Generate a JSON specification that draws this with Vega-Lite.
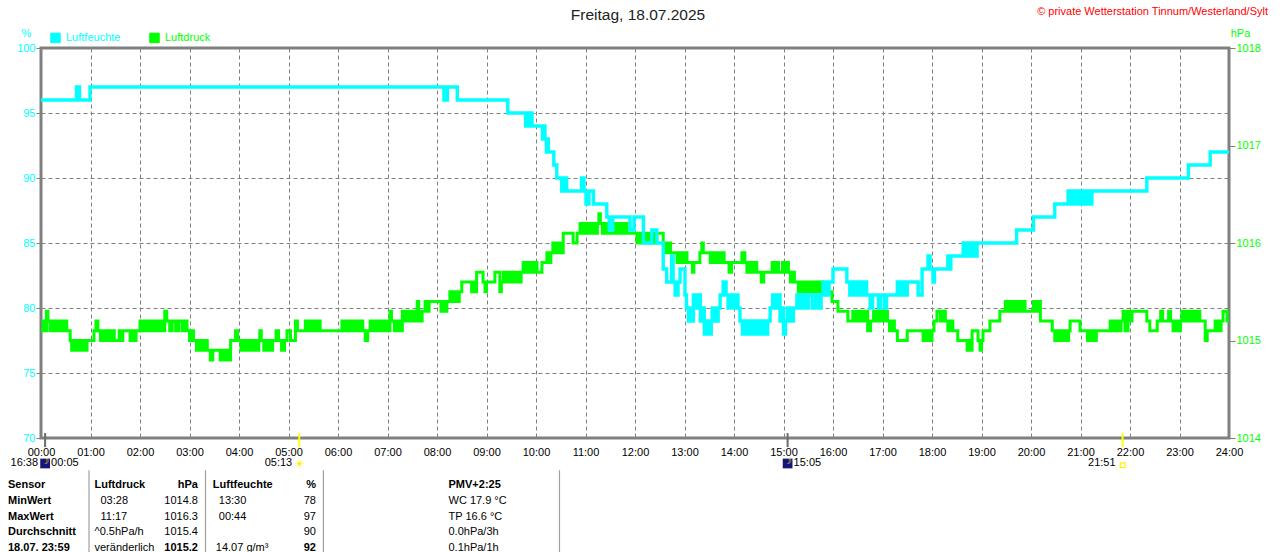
{
  "$schema": "https://vega.github.io/schema/vega-lite/v6.json",
  "width": 1188,
  "height": 390,
  "autosize": {"type": "none"},
  "padding": {"left": 41, "top": 48, "right": 51, "bottom": 114},
  "background": "white",
  "datasets": {
    "feuchte": [
      {"t":0,"v":96},{"t":0.717,"v":97},{"t":0.778,"v":96},{"t":0.99,"v":97},{"t":8.14,"v":96},{"t":8.21,"v":97},{"t":8.41,"v":96},
      {"t":9.43,"v":95},{"t":9.79,"v":94},{"t":9.83,"v":95},{"t":9.86,"v":94},{"t":9.9,"v":95},{"t":9.92,"v":94},
      {"t":10.13,"v":93},{"t":10.16,"v":94},{"t":10.18,"v":93},{"t":10.21,"v":92},{"t":10.23,"v":93},{"t":10.25,"v":92},
      {"t":10.36,"v":91},{"t":10.42,"v":90},{"t":10.52,"v":89},{"t":10.55,"v":90},{"t":10.58,"v":89},{"t":10.6,"v":90},{"t":10.62,"v":89},
      {"t":10.92,"v":90},{"t":10.97,"v":89},{"t":11.01,"v":88},{"t":11.07,"v":89},{"t":11.16,"v":88},{"t":11.43,"v":87},{"t":11.48,"v":86},
      {"t":11.55,"v":87},{"t":11.9,"v":86},{"t":11.98,"v":87},{"t":12.17,"v":85},{"t":12.34,"v":86},{"t":12.44,"v":85},{"t":12.57,"v":83},
      {"t":12.64,"v":82},{"t":12.74,"v":84},{"t":12.77,"v":82},{"t":12.81,"v":81},{"t":12.87,"v":82},{"t":12.91,"v":83},{"t":13.01,"v":81},
      {"t":13.04,"v":80},{"t":13.08,"v":79},{"t":13.12,"v":80},{"t":13.15,"v":79},{"t":13.18,"v":81},{"t":13.24,"v":80},{"t":13.28,"v":81},
      {"t":13.32,"v":79},{"t":13.36,"v":80},{"t":13.4,"v":78},{"t":13.44,"v":79},{"t":13.5,"v":78},{"t":13.54,"v":79},{"t":13.56,"v":80},
      {"t":13.62,"v":79},{"t":13.68,"v":80},{"t":13.72,"v":81},{"t":13.78,"v":82},{"t":13.84,"v":81},{"t":13.88,"v":80},{"t":13.93,"v":81},
      {"t":13.98,"v":80},{"t":14.03,"v":81},{"t":14.08,"v":80},{"t":14.12,"v":79},{"t":14.17,"v":78},{"t":14.22,"v":79},{"t":14.28,"v":78},
      {"t":14.34,"v":79},{"t":14.4,"v":78},{"t":14.46,"v":79},{"t":14.52,"v":78},{"t":14.58,"v":79},{"t":14.64,"v":78},{"t":14.68,"v":79},
      {"t":14.73,"v":80},{"t":14.78,"v":81},{"t":14.84,"v":80},{"t":14.88,"v":81},{"t":14.93,"v":79},{"t":14.96,"v":80},{"t":15.0,"v":78},
      {"t":15.04,"v":79},{"t":15.08,"v":80},{"t":15.14,"v":79},{"t":15.2,"v":80},{"t":15.27,"v":81},{"t":15.32,"v":80},{"t":15.38,"v":81},
      {"t":15.45,"v":80},{"t":15.5,"v":81},{"t":15.58,"v":80},{"t":15.65,"v":81},{"t":15.72,"v":80},{"t":15.76,"v":81},{"t":15.8,"v":82},
      {"t":15.86,"v":81},{"t":15.92,"v":82},{"t":16.0,"v":83},{"t":16.28,"v":82},{"t":16.34,"v":81},{"t":16.4,"v":82},{"t":16.46,"v":81},
      {"t":16.52,"v":82},{"t":16.58,"v":81},{"t":16.64,"v":82},{"t":16.68,"v":81},{"t":16.75,"v":80},{"t":16.8,"v":81},{"t":16.92,"v":80},
      {"t":16.96,"v":81},{"t":17.04,"v":80},{"t":17.08,"v":81},{"t":17.3,"v":82},{"t":17.35,"v":81},{"t":17.4,"v":82},{"t":17.45,"v":81},
      {"t":17.5,"v":82},{"t":17.72,"v":81},{"t":17.8,"v":83},{"t":17.92,"v":84},{"t":17.96,"v":83},{"t":18.02,"v":82},{"t":18.05,"v":83},
      {"t":18.32,"v":84},{"t":18.36,"v":83},{"t":18.38,"v":84},{"t":18.63,"v":85},{"t":18.68,"v":84},{"t":18.74,"v":85},{"t":18.8,"v":84},
      {"t":18.86,"v":85},{"t":18.9,"v":84},{"t":18.91,"v":85},{"t":19.71,"v":86},{"t":20.05,"v":87},{"t":20.48,"v":88},{"t":20.75,"v":89},
      {"t":20.82,"v":88},{"t":20.88,"v":89},{"t":20.95,"v":88},{"t":21.0,"v":89},{"t":21.06,"v":88},{"t":21.12,"v":89},{"t":21.18,"v":88},
      {"t":21.23,"v":89},{"t":22.34,"v":90},{"t":23.18,"v":91},{"t":23.62,"v":92},{"t":24,"v":92}
    ],
    "druck": [
      {"t":0,"v":1015.1},{"t":0.04,"v":1015.2},{"t":0.08,"v":1015.1},{"t":0.11,"v":1015.3},{"t":0.14,"v":1015.2},{"t":0.18,"v":1015.1},
      {"t":0.22,"v":1015.2},{"t":0.28,"v":1015.1},{"t":0.32,"v":1015.2},{"t":0.38,"v":1015.1},{"t":0.42,"v":1015.2},{"t":0.46,"v":1015.1},
      {"t":0.5,"v":1015.2},{"t":0.52,"v":1015.1},{"t":0.59,"v":1015.0},{"t":0.62,"v":1014.9},{"t":0.66,"v":1015.0},{"t":0.72,"v":1014.9},
      {"t":0.76,"v":1015.0},{"t":0.82,"v":1014.9},{"t":0.86,"v":1015.0},{"t":0.9,"v":1014.9},{"t":0.93,"v":1015.0},{"t":1.07,"v":1015.1},
      {"t":1.11,"v":1015.2},{"t":1.15,"v":1015.1},{"t":1.2,"v":1015.0},{"t":1.25,"v":1015.1},{"t":1.3,"v":1015.0},{"t":1.36,"v":1015.1},
      {"t":1.4,"v":1015.0},{"t":1.45,"v":1015.1},{"t":1.48,"v":1015.0},{"t":1.58,"v":1015.1},{"t":1.62,"v":1015.0},{"t":1.65,"v":1015.1},
      {"t":1.8,"v":1015.0},{"t":1.84,"v":1015.1},{"t":1.88,"v":1015.0},{"t":1.92,"v":1015.1},{"t":2.0,"v":1015.2},{"t":2.05,"v":1015.1},
      {"t":2.1,"v":1015.2},{"t":2.15,"v":1015.1},{"t":2.2,"v":1015.2},{"t":2.25,"v":1015.1},{"t":2.3,"v":1015.2},{"t":2.35,"v":1015.1},
      {"t":2.4,"v":1015.2},{"t":2.45,"v":1015.1},{"t":2.5,"v":1015.3},{"t":2.54,"v":1015.2},{"t":2.6,"v":1015.1},{"t":2.65,"v":1015.2},
      {"t":2.72,"v":1015.1},{"t":2.78,"v":1015.2},{"t":2.85,"v":1015.1},{"t":2.9,"v":1015.2},{"t":2.95,"v":1015.1},{"t":3.0,"v":1015.0},
      {"t":3.03,"v":1015.1},{"t":3.08,"v":1015.0},{"t":3.14,"v":1014.9},{"t":3.18,"v":1015.0},{"t":3.24,"v":1014.9},{"t":3.3,"v":1015.0},
      {"t":3.36,"v":1014.9},{"t":3.42,"v":1014.8},{"t":3.47,"v":1014.9},{"t":3.62,"v":1014.8},{"t":3.68,"v":1014.9},{"t":3.72,"v":1014.8},
      {"t":3.78,"v":1014.9},{"t":3.8,"v":1014.8},{"t":3.83,"v":1015.0},{"t":3.93,"v":1015.1},{"t":3.97,"v":1015.0},{"t":4.04,"v":1014.9},
      {"t":4.1,"v":1015.0},{"t":4.15,"v":1014.9},{"t":4.2,"v":1015.0},{"t":4.25,"v":1014.9},{"t":4.3,"v":1015.0},{"t":4.36,"v":1014.9},
      {"t":4.4,"v":1015.0},{"t":4.42,"v":1015.1},{"t":4.45,"v":1015.0},{"t":4.5,"v":1014.9},{"t":4.56,"v":1015.0},{"t":4.62,"v":1014.9},
      {"t":4.68,"v":1015.0},{"t":4.75,"v":1015.1},{"t":4.8,"v":1015.0},{"t":4.86,"v":1014.9},{"t":4.92,"v":1015.0},{"t":4.97,"v":1015.1},
      {"t":5.04,"v":1015.0},{"t":5.14,"v":1015.2},{"t":5.18,"v":1015.1},{"t":5.34,"v":1015.2},{"t":5.4,"v":1015.1},{"t":5.46,"v":1015.2},
      {"t":5.52,"v":1015.1},{"t":5.58,"v":1015.2},{"t":5.64,"v":1015.1},{"t":6.08,"v":1015.2},{"t":6.14,"v":1015.1},{"t":6.2,"v":1015.2},
      {"t":6.26,"v":1015.1},{"t":6.32,"v":1015.2},{"t":6.38,"v":1015.1},{"t":6.44,"v":1015.2},{"t":6.5,"v":1015.1},{"t":6.55,"v":1015.0},
      {"t":6.6,"v":1015.1},{"t":6.65,"v":1015.2},{"t":6.7,"v":1015.1},{"t":6.76,"v":1015.2},{"t":6.82,"v":1015.1},{"t":6.88,"v":1015.2},
      {"t":6.94,"v":1015.1},{"t":7.0,"v":1015.2},{"t":7.04,"v":1015.1},{"t":7.05,"v":1015.3},{"t":7.08,"v":1015.2},{"t":7.14,"v":1015.1},
      {"t":7.2,"v":1015.2},{"t":7.26,"v":1015.1},{"t":7.3,"v":1015.3},{"t":7.36,"v":1015.2},{"t":7.42,"v":1015.3},{"t":7.48,"v":1015.2},
      {"t":7.54,"v":1015.3},{"t":7.58,"v":1015.2},{"t":7.6,"v":1015.4},{"t":7.63,"v":1015.3},{"t":7.66,"v":1015.2},{"t":7.7,"v":1015.3},
      {"t":7.76,"v":1015.4},{"t":7.8,"v":1015.3},{"t":7.84,"v":1015.4},{"t":8.08,"v":1015.3},{"t":8.12,"v":1015.4},{"t":8.16,"v":1015.3},
      {"t":8.2,"v":1015.4},{"t":8.26,"v":1015.5},{"t":8.3,"v":1015.4},{"t":8.35,"v":1015.5},{"t":8.4,"v":1015.4},{"t":8.45,"v":1015.5},
      {"t":8.5,"v":1015.6},{"t":8.7,"v":1015.5},{"t":8.74,"v":1015.6},{"t":8.77,"v":1015.5},{"t":8.8,"v":1015.7},{"t":8.93,"v":1015.6},
      {"t":8.97,"v":1015.5},{"t":9.0,"v":1015.6},{"t":9.17,"v":1015.7},{"t":9.27,"v":1015.5},{"t":9.3,"v":1015.6},{"t":9.34,"v":1015.7},
      {"t":9.4,"v":1015.6},{"t":9.46,"v":1015.7},{"t":9.52,"v":1015.6},{"t":9.58,"v":1015.7},{"t":9.64,"v":1015.6},{"t":9.7,"v":1015.7},
      {"t":9.74,"v":1015.8},{"t":9.8,"v":1015.7},{"t":9.86,"v":1015.8},{"t":9.92,"v":1015.7},{"t":9.96,"v":1015.8},{"t":10.02,"v":1015.7},
      {"t":10.12,"v":1015.8},{"t":10.22,"v":1015.9},{"t":10.26,"v":1015.8},{"t":10.3,"v":1015.9},{"t":10.34,"v":1016.0},{"t":10.4,"v":1015.9},
      {"t":10.45,"v":1016.0},{"t":10.5,"v":1015.9},{"t":10.55,"v":1016.1},{"t":10.75,"v":1016.0},{"t":10.83,"v":1016.1},{"t":10.89,"v":1016.2},
      {"t":10.95,"v":1016.1},{"t":11.0,"v":1016.2},{"t":11.06,"v":1016.1},{"t":11.12,"v":1016.2},{"t":11.18,"v":1016.1},{"t":11.24,"v":1016.2},
      {"t":11.27,"v":1016.3},{"t":11.3,"v":1016.2},{"t":11.34,"v":1016.1},{"t":11.38,"v":1016.2},{"t":11.43,"v":1016.1},{"t":11.56,"v":1016.2},
      {"t":11.62,"v":1016.1},{"t":11.68,"v":1016.2},{"t":11.74,"v":1016.1},{"t":11.8,"v":1016.2},{"t":11.84,"v":1016.1},{"t":12.04,"v":1016.0},
      {"t":12.1,"v":1016.1},{"t":12.16,"v":1016.0},{"t":12.22,"v":1016.1},{"t":12.28,"v":1016.0},{"t":12.34,"v":1016.1},{"t":12.4,"v":1016.0},
      {"t":12.44,"v":1016.1},{"t":12.57,"v":1016.0},{"t":12.62,"v":1015.9},{"t":12.67,"v":1016.0},{"t":12.72,"v":1015.9},{"t":12.85,"v":1015.8},
      {"t":12.91,"v":1015.9},{"t":12.95,"v":1015.8},{"t":13.0,"v":1015.9},{"t":13.05,"v":1015.8},{"t":13.16,"v":1015.7},{"t":13.19,"v":1015.8},
      {"t":13.31,"v":1015.9},{"t":13.35,"v":1016.0},{"t":13.38,"v":1015.9},{"t":13.52,"v":1015.8},{"t":13.58,"v":1015.9},{"t":13.64,"v":1015.8},
      {"t":13.7,"v":1015.9},{"t":13.74,"v":1015.8},{"t":13.78,"v":1015.9},{"t":13.8,"v":1015.8},{"t":13.9,"v":1015.7},{"t":13.95,"v":1015.8},
      {"t":14.16,"v":1015.9},{"t":14.22,"v":1015.8},{"t":14.26,"v":1015.7},{"t":14.32,"v":1015.8},{"t":14.36,"v":1015.7},{"t":14.42,"v":1015.8},
      {"t":14.46,"v":1015.7},{"t":14.55,"v":1015.6},{"t":14.6,"v":1015.7},{"t":14.77,"v":1015.8},{"t":14.82,"v":1015.7},{"t":14.85,"v":1015.8},
      {"t":14.9,"v":1015.7},{"t":14.98,"v":1015.8},{"t":15.02,"v":1015.7},{"t":15.06,"v":1015.8},{"t":15.1,"v":1015.7},{"t":15.14,"v":1015.6},
      {"t":15.18,"v":1015.7},{"t":15.22,"v":1015.6},{"t":15.3,"v":1015.5},{"t":15.36,"v":1015.6},{"t":15.42,"v":1015.5},{"t":15.48,"v":1015.6},
      {"t":15.54,"v":1015.5},{"t":15.6,"v":1015.6},{"t":15.66,"v":1015.5},{"t":15.72,"v":1015.6},{"t":15.78,"v":1015.5},{"t":15.98,"v":1015.4},
      {"t":16.1,"v":1015.3},{"t":16.3,"v":1015.2},{"t":16.4,"v":1015.3},{"t":16.46,"v":1015.2},{"t":16.52,"v":1015.3},{"t":16.58,"v":1015.2},
      {"t":16.64,"v":1015.3},{"t":16.7,"v":1015.1},{"t":16.76,"v":1015.2},{"t":16.82,"v":1015.3},{"t":16.88,"v":1015.2},{"t":16.94,"v":1015.3},
      {"t":17.0,"v":1015.2},{"t":17.06,"v":1015.3},{"t":17.1,"v":1015.2},{"t":17.14,"v":1015.1},{"t":17.2,"v":1015.2},{"t":17.24,"v":1015.1},
      {"t":17.3,"v":1015.0},{"t":17.5,"v":1015.1},{"t":17.82,"v":1015.0},{"t":17.88,"v":1015.1},{"t":17.94,"v":1015.0},{"t":18.0,"v":1015.1},
      {"t":18.04,"v":1015.2},{"t":18.1,"v":1015.3},{"t":18.17,"v":1015.2},{"t":18.22,"v":1015.3},{"t":18.27,"v":1015.2},{"t":18.32,"v":1015.1},
      {"t":18.37,"v":1015.2},{"t":18.42,"v":1015.1},{"t":18.52,"v":1015.0},{"t":18.71,"v":1014.9},{"t":18.76,"v":1015.0},{"t":18.79,"v":1014.9},
      {"t":18.81,"v":1015.1},{"t":18.93,"v":1015.0},{"t":18.97,"v":1014.9},{"t":19.0,"v":1015.0},{"t":19.03,"v":1015.1},{"t":19.17,"v":1015.2},
      {"t":19.37,"v":1015.3},{"t":19.48,"v":1015.4},{"t":19.54,"v":1015.3},{"t":19.6,"v":1015.4},{"t":19.66,"v":1015.3},{"t":19.72,"v":1015.4},
      {"t":19.78,"v":1015.3},{"t":19.84,"v":1015.4},{"t":19.88,"v":1015.3},{"t":20.05,"v":1015.4},{"t":20.1,"v":1015.3},{"t":20.15,"v":1015.4},
      {"t":20.19,"v":1015.2},{"t":20.43,"v":1015.1},{"t":20.48,"v":1015.0},{"t":20.54,"v":1015.1},{"t":20.6,"v":1015.0},{"t":20.66,"v":1015.1},
      {"t":20.72,"v":1015.0},{"t":20.76,"v":1015.1},{"t":20.79,"v":1015.2},{"t":20.99,"v":1015.1},{"t":21.14,"v":1015.0},{"t":21.2,"v":1015.1},
      {"t":21.26,"v":1015.0},{"t":21.32,"v":1015.1},{"t":21.6,"v":1015.2},{"t":21.66,"v":1015.1},{"t":21.72,"v":1015.2},{"t":21.78,"v":1015.1},
      {"t":21.82,"v":1015.2},{"t":21.86,"v":1015.3},{"t":21.9,"v":1015.1},{"t":21.96,"v":1015.3},{"t":22.0,"v":1015.2},{"t":22.04,"v":1015.3},
      {"t":22.34,"v":1015.2},{"t":22.4,"v":1015.1},{"t":22.55,"v":1015.2},{"t":22.62,"v":1015.3},{"t":22.66,"v":1015.2},{"t":22.78,"v":1015.3},
      {"t":22.82,"v":1015.2},{"t":22.87,"v":1015.1},{"t":22.92,"v":1015.2},{"t":22.98,"v":1015.1},{"t":23.02,"v":1015.2},{"t":23.05,"v":1015.3},
      {"t":23.1,"v":1015.2},{"t":23.16,"v":1015.3},{"t":23.22,"v":1015.2},{"t":23.28,"v":1015.3},{"t":23.34,"v":1015.2},{"t":23.38,"v":1015.3},
      {"t":23.41,"v":1015.2},{"t":23.52,"v":1015.0},{"t":23.56,"v":1015.1},{"t":23.72,"v":1015.2},{"t":23.78,"v":1015.1},{"t":23.84,"v":1015.2},
      {"t":23.88,"v":1015.3},{"t":23.96,"v":1015.2},{"t":24,"v":1015.2}
    ],
    "astro": [
      {"t": 0.083, "kind": "mond", "before": "16:38", "after": "00:05"},
      {"t": 5.217, "kind": "aufgang", "before": "05:13", "after": ""},
      {"t": 15.083, "kind": "mond", "before": "", "after": "15:05"},
      {"t": 21.85, "kind": "untergang", "before": "21:51", "after": ""}
    ],
    "kopf": [{"text": "Freitag, 18.07.2025"}],
    "copy": [{"text": "© private Wetterstation Tinnum/Westerland/Sylt"}],
    "tabelle": [
      {"row": 0, "col": 0, "text": "Sensor"},
      {"row": 0, "col": 2, "text": "Luftdruck"},
      {"row": 0, "col": 3, "text": "hPa"},
      {"row": 0, "col": 5, "text": "Luftfeuchte"},
      {"row": 0, "col": 6, "text": "%"},
      {"row": 0, "col": 8, "text": "PMV+2:25"},
      {"row": 1, "col": 0, "text": "MinWert"},
      {"row": 1, "col": 2, "text": "03:28"},
      {"row": 1, "col": 3, "text": "1014.8"},
      {"row": 1, "col": 5, "text": "13:30"},
      {"row": 1, "col": 6, "text": "78"},
      {"row": 1, "col": 8, "text": "WC 17.9 °C"},
      {"row": 2, "col": 0, "text": "MaxWert"},
      {"row": 2, "col": 2, "text": "11:17"},
      {"row": 2, "col": 3, "text": "1016.3"},
      {"row": 2, "col": 5, "text": "00:44"},
      {"row": 2, "col": 6, "text": "97"},
      {"row": 2, "col": 8, "text": "TP 16.6 °C"},
      {"row": 3, "col": 0, "text": "Durchschnitt"},
      {"row": 3, "col": 2, "text": "^0.5hPa/h"},
      {"row": 3, "col": 3, "text": "1015.4"},
      {"row": 3, "col": 6, "text": "90"},
      {"row": 3, "col": 8, "text": "0.0hPa/3h"},
      {"row": 4, "col": 0, "text": "18.07. 23:59"},
      {"row": 4, "col": 2, "text": "veränderlich"},
      {"row": 4, "col": 3, "text": "1015.2"},
      {"row": 4, "col": 5, "text": "14.07 g/m³"},
      {"row": 4, "col": 6, "text": "92"},
      {"row": 4, "col": 8, "text": "0.1hPa/1h"}
    ],
    "trenner": [{"col": 1}, {"col": 4}, {"col": 7}, {"col": 9}]
  },
  "layer": [
    {
      "data": {"name": "druck"},
      "mark": {"type": "line", "interpolate": "step-after", "strokeWidth": 3},
      "encoding": {
        "x": {"field": "t", "type": "quantitative", "scale": {"domain": [0, 24], "nice": false, "zero": false}, "axis": null},
        "y": {
          "field": "v",
          "type": "quantitative",
          "scale": {"domain": [1014, 1018], "nice": false, "zero": false},
          "axis": {
            "orient": "right",
            "values": [1014, 1015, 1016, 1017, 1018],
            "format": "d",
            "grid": false,
            "domain": false,
            "tickColor": "#808080",
            "tickSize": 6,
            "labelColor": "#00ff00",
            "labelFontSize": 11,
            "labelPadding": 1,
            "labelBaseline": "middle",
            "title": "hPa",
            "titleColor": "#00ff00",
            "titleAngle": 0,
            "titleX": 11,
            "titleY": -15,
            "titleAlign": "center",
            "titleBaseline": "middle",
            "titleFontWeight": "normal",
            "titleFontSize": 11
          }
        },
        "color": {"datum": "Luftdruck", "type": "nominal"}
      }
    },
    {
      "layer": [
        {
          "data": {"name": "feuchte"},
          "mark": {"type": "line", "interpolate": "step-after", "strokeWidth": 3.4},
          "encoding": {
            "x": {
              "field": "t",
              "type": "quantitative",
              "scale": {"domain": [0, 24], "nice": false, "zero": false},
              "axis": {
                "values": [0, 1, 2, 3, 4, 5, 6, 7, 8, 9, 10, 11, 12, 13, 14, 15, 16, 17, 18, 19, 20, 21, 22, 23, 24],
                "labelExpr": "(datum.value < 10 ? '0' : '') + datum.value + ':00'",
                "grid": true,
                "gridColor": "#808080",
                "gridDash": [4, 3],
                "gridWidth": 1,
                "ticks": false,
                "domain": false,
                "labelColor": "#000000",
                "labelFontSize": 11,
                "labelPadding": 8,
                "labelFlush": false,
                "labelOverlap": false,
                "labelBound": false,
                "title": null
              }
            },
            "y": {
              "field": "v",
              "type": "quantitative",
              "scale": {"domain": [70, 100], "nice": false, "zero": false},
              "axis": {
                "orient": "left",
                "values": [70, 75, 80, 85, 90, 95, 100],
                "grid": true,
                "gridColor": "#808080",
                "gridDash": [4, 3],
                "gridWidth": 1,
                "domain": false,
                "tickColor": "#808080",
                "tickSize": 5,
                "labelColor": "#00ffff",
                "labelFontSize": 11,
                "labelPadding": 1,
                "title": "%",
                "titleColor": "#00ffff",
                "titleAngle": 0,
                "titleX": -15,
                "titleY": -15,
                "titleAlign": "center",
                "titleBaseline": "middle",
                "titleFontWeight": "normal",
                "titleFontSize": 11
              }
            },
            "color": {
              "datum": "Luftfeuchte",
              "type": "nominal",
              "scale": {"domain": ["Luftfeuchte", "Luftdruck"], "range": ["#00ffff", "#00ff00"]},
              "legend": {
                "orient": "none",
                "legendX": 9,
                "legendY": -16,
                "direction": "horizontal",
                "title": null,
                "symbolType": "square",
                "symbolSize": 90,
                "symbolStrokeWidth": 1,
                "symbolStrokeColor": "#000000",
                "symbolFillColor": {"expr": "datum.value === 'Luftfeuchte' ? '#00ffff' : '#00ff00'"},
                "labelColor": {"expr": "datum.value === 'Luftfeuchte' ? '#00ffff' : '#00ff00'"},
                "labelFontSize": 11,
                "labelOffset": 5,
                "columnPadding": 26
              }
            }
          }
        },
        {
          "data": {"name": "astro"},
          "mark": {"type": "rule", "strokeWidth": 2, "stroke": {"expr": "datum.kind === 'mond' ? '#6a6a6a' : '#ffff00'"}},
          "encoding": {
            "x": {"field": "t", "type": "quantitative"},
            "y": {"datum": 70.38, "type": "quantitative"},
            "y2": {"datum": 69.3}
          }
        },
        {
          "data": {"name": "astro"},
          "mark": {"type": "text", "align": "right", "baseline": "middle", "dx": -7, "fontSize": 11, "color": "#000000"},
          "encoding": {
            "x": {"field": "t", "type": "quantitative"},
            "y": {"datum": 68.08, "type": "quantitative"},
            "text": {"field": "before"}
          }
        },
        {
          "data": {"name": "astro"},
          "mark": {"type": "text", "align": "left", "baseline": "middle", "dx": 6, "fontSize": 11, "color": "#000000"},
          "encoding": {
            "x": {"field": "t", "type": "quantitative"},
            "y": {"datum": 68.08, "type": "quantitative"},
            "text": {"field": "after"}
          }
        },
        {
          "data": {"name": "astro"},
          "transform": [{"filter": "datum.kind === 'mond'"}],
          "mark": {"type": "point", "shape": "square", "size": 95, "filled": true, "color": "#15157a", "opacity": 1},
          "encoding": {
            "x": {"field": "t", "type": "quantitative"},
            "y": {"datum": 68.04, "type": "quantitative"}
          }
        },
        {
          "data": {"name": "astro"},
          "transform": [{"filter": "datum.kind === 'mond'"}, {"calculate": "'☽'", "as": "sym"}],
          "mark": {"type": "text", "font": "DejaVu Sans", "fontSize": 9, "color": "#ffee00", "baseline": "middle", "align": "center"},
          "encoding": {
            "x": {"field": "t", "type": "quantitative"},
            "y": {"datum": 68.2, "type": "quantitative"},
            "text": {"field": "sym"}
          }
        },
        {
          "data": {"name": "astro"},
          "transform": [{"filter": "datum.kind === 'aufgang'"}, {"calculate": "'☀'", "as": "sym"}],
          "mark": {"type": "text", "font": "DejaVu Sans", "fontSize": 12, "color": "#ffee00", "baseline": "middle", "align": "center", "dx": 0.5},
          "encoding": {
            "x": {"field": "t", "type": "quantitative"},
            "y": {"datum": 68.0, "type": "quantitative"},
            "text": {"field": "sym"}
          }
        },
        {
          "data": {"name": "astro"},
          "transform": [{"filter": "datum.kind === 'untergang'"}],
          "mark": {"type": "point", "shape": "square", "size": 22, "filled": false, "color": "#ffee00", "strokeWidth": 1.2, "opacity": 1},
          "encoding": {
            "x": {"field": "t", "type": "quantitative"},
            "y": {"datum": 67.9, "type": "quantitative"}
          }
        },
        {
          "data": {"name": "kopf"},
          "mark": {"type": "text", "align": "center", "baseline": "middle", "dx": 3, "dy": -33, "fontSize": 15.5, "color": "#222222"},
          "encoding": {
            "x": {"datum": 12, "type": "quantitative"},
            "y": {"datum": 100, "type": "quantitative"},
            "text": {"field": "text"}
          }
        },
        {
          "data": {"name": "copy"},
          "mark": {"type": "text", "align": "right", "baseline": "middle", "dx": 39, "dy": -36, "fontSize": 11, "color": "#ff0000"},
          "encoding": {
            "x": {"datum": 24, "type": "quantitative"},
            "y": {"datum": 100, "type": "quantitative"},
            "text": {"field": "text"}
          }
        }
      ]
    },
    {
      "layer": [
        {
          "data": {"name": "tabelle"},
          "mark": {
            "type": "text",
            "baseline": "middle",
            "fontSize": 11,
            "color": "#000000",
            "align": {"expr": "datum.col === 3 || datum.col === 6 ? 'right' : 'left'"},
            "dx": {"expr": "(datum.col === 2 || datum.col === 5) && (datum.row === 1 || datum.row === 2) ? 6 : (datum.col === 5 && datum.row === 4 ? 3 : 0)"},
            "fontWeight": {"expr": "datum.col === 0 || datum.row === 0 || (datum.row === 4 && (datum.col === 3 || datum.col === 6)) ? 'bold' : 'normal'"}
          },
          "encoding": {
            "x": {
              "field": "col",
              "type": "quantitative",
              "scale": {"domain": [0, 1, 2, 3, 4, 5, 6, 7, 8, 9], "range": [-33, 48, 53.5, 157, 164.5, 171.8, 275, 282.4, 407.5, 518.5], "nice": false, "zero": false},
              "axis": null
            },
            "y": {
              "field": "row",
              "type": "quantitative",
              "scale": {"domain": [0, 4], "range": [437, 500], "nice": false, "zero": false},
              "axis": null
            },
            "text": {"field": "text"}
          }
        },
        {
          "data": {"name": "trenner"},
          "mark": {"type": "rule", "color": "#a0a0a0", "strokeWidth": 1.2},
          "encoding": {
            "x": {"field": "col", "type": "quantitative"},
            "y": {"datum": -0.94, "type": "quantitative"},
            "y2": {"datum": 4.3}
          }
        }
      ]
    }
  ],
  "resolve": {"scale": {"x": "independent", "y": "independent"}},
  "config": {
    "font": "Liberation Sans",
    "view": {"stroke": "#808080", "strokeWidth": 3},
    "axis": {"labelFont": "Liberation Sans", "titleFont": "Liberation Sans"},
    "legend": {"labelFont": "Liberation Sans"},
    "text": {"font": "Liberation Sans"}
  }
}
